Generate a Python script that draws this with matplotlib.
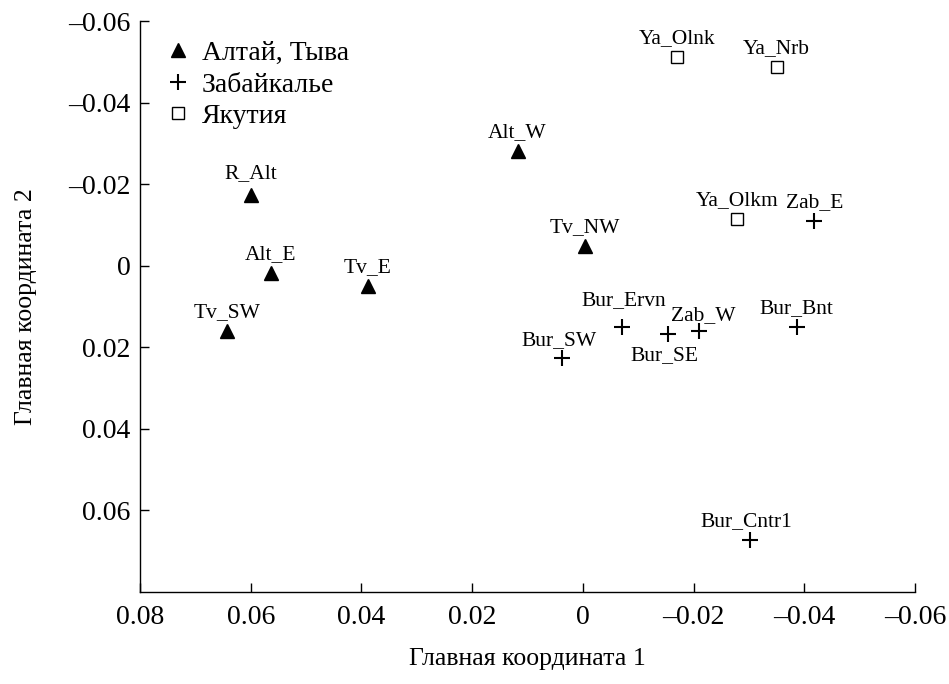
import matplotlib
matplotlib.use("Agg")
import matplotlib.pyplot as plt
from matplotlib.ticker import FuncFormatter, MultipleLocator

plt.rcParams['font.family'] = ['Liberation Serif', 'DejaVu Serif']

# Data: principal coordinates per group
alt_names = ['R_Alt', 'Alt_E', 'Tv_E', 'Alt_W', 'Tv_NW', 'Tv_SW']
alt_x = [0.0600, 0.0564, 0.0389, 0.0118, -0.0004, 0.0642]
alt_y = [-0.0174, 0.0017, 0.0050, -0.0282, -0.0048, 0.0159]

zab_names = ['Zab_E', 'Bur_SW', 'Bur_Ervn', 'Bur_SE', 'Zab_W', 'Bur_Bnt', 'Bur_Cntr1']
zab_x = [-0.0418, 0.0038, -0.0071, -0.0153, -0.0210, -0.0386, -0.0302]
zab_y = [-0.0109, 0.0227, 0.0150, 0.0168, 0.0161, 0.0151, 0.0672]

yak_names = ['Ya_Olnk', 'Ya_Nrb', 'Ya_Olkm']
yak_x = [-0.0170, -0.0350, -0.0278]
yak_y = [-0.0511, -0.0488, -0.0115]

legend_labels = ['Алтай, Тыва', 'Забайкалье', 'Якутия']

# label offsets in pixels (dx, dy of baseline above marker), default above
label_shift = {
    'R_Alt': (0, 17),
    'Bur_SE': (-3, -26),
    'Zab_W': (4, 11),
    'Bur_SW': (-3, 13),
    'Bur_Ervn': (2, 22),
    'Bur_Cntr1': (-4, 14),
}

fig = plt.figure(figsize=(9.49, 6.84), dpi=100)
ax = fig.add_axes([0.1475, 0.1345, 0.8167, 0.8345])

ax.plot(alt_x, alt_y, linestyle='none', marker='^', ms=10, color='black',
        label=legend_labels[0])
ax.plot(zab_x, zab_y, linestyle='none', marker='+', ms=11, mew=1.5, color='black',
        label=legend_labels[1])
ax.plot(yak_x, yak_y, linestyle='none', marker='s', ms=9, mfc='white', mec='black',
        mew=1.0, label=legend_labels[2])

for names, xs, ys in [(alt_names, alt_x, alt_y), (zab_names, zab_x, zab_y),
                      (yak_names, yak_x, yak_y)]:
    for n, x, y in zip(names, xs, ys):
        dx, dy = label_shift.get(n, (0, 14))
        ax.annotate(n, (x, y), xytext=(dx, dy), textcoords='offset pixels',
                    ha='center', va='baseline', fontsize=15.5)

ax.set_xlim(0.08, -0.06)
ax.set_ylim(0.08, -0.06)
ax.xaxis.set_major_locator(MultipleLocator(0.02))
ax.set_yticks([-0.06, -0.04, -0.02, 0, 0.02, 0.04, 0.06])


def fmt(v, pos):
    if abs(v) < 1e-9:
        return '0'
    s = f'{v:.2f}'
    return s.replace('-', '\u2013')


ax.xaxis.set_major_formatter(FuncFormatter(fmt))
ax.yaxis.set_major_formatter(FuncFormatter(fmt))

for s in ['top', 'right']:
    ax.spines[s].set_visible(False)
for s in ['left', 'bottom']:
    ax.spines[s].set_linewidth(1.0)

ax.tick_params(direction='in', length=6.5, width=1.0, labelsize=20)
ax.tick_params(axis='x', pad=9)
ax.tick_params(axis='y', pad=7)

ax.set_xlabel('Главная координата 1', fontsize=18.5, labelpad=13)
ax.set_ylabel('Главная координата 2', fontsize=18.5, labelpad=22)

ax.legend(loc='upper left', bbox_to_anchor=(0.003, 1.0), frameon=False, fontsize=20,
          handletextpad=0.25, labelspacing=0.22, handlelength=1.2, borderaxespad=0.3)

fig.savefig('out.png', dpi=100)
